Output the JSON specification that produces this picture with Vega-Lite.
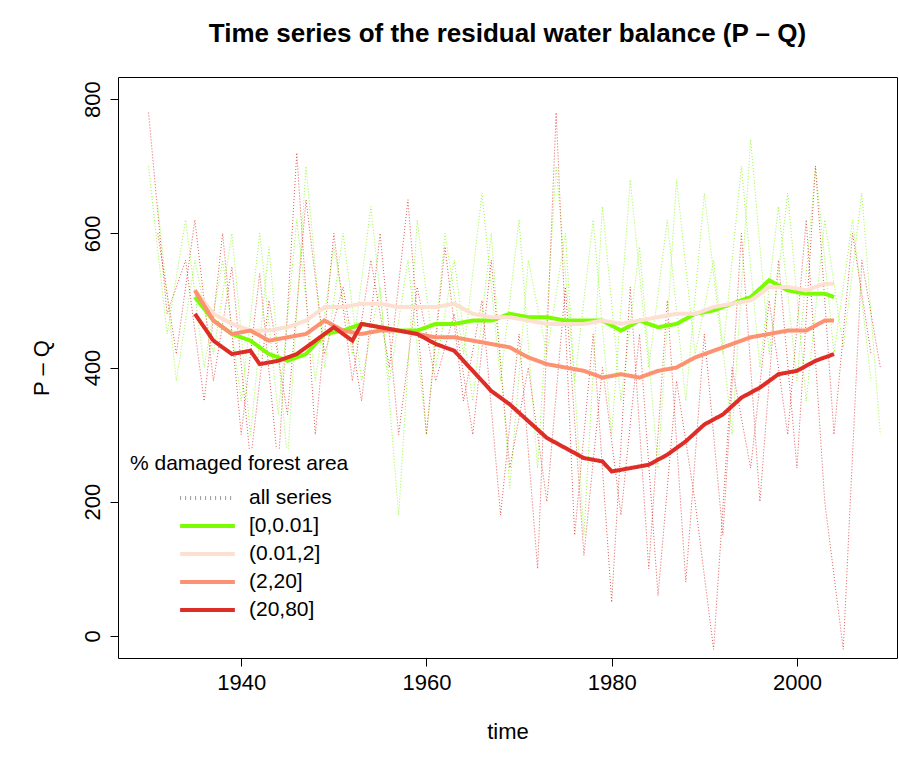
{
  "$schema": "https://vega.github.io/schema/vega-lite/v6.json",
  "autosize": {"type": "fit", "contains": "padding"},
  "width": 899,
  "height": 758,
  "padding": {"top": 21, "left": 30, "right": 2, "bottom": 16},
  "title": {"text": "Time series of the residual water balance (P \u2013 Q)", "fontSize": 26, "font": "Liberation Sans", "fontWeight": "bold", "offset": 30},
  "config": {
    "font": "Liberation Sans",
    "view": {"stroke": "black", "strokeWidth": 1},
    "axis": {"domain": false, "grid": false, "tickColor": "black", "tickSize": 8, "labelFontSize": 22, "titleFontSize": 22, "titleFontWeight": "normal", "labelColor": "black", "titleColor": "black", "labelPadding": 6}
  },
  "datasets": {
    "bg": [
      {"s":"G1","k":"g","year":1930,"value":700},{"s":"G1","k":"g","year":1932,"value":450},{"s":"G1","k":"g","year":1934,"value":620},{"s":"G1","k":"g","year":1936,"value":400},{"s":"G1","k":"g","year":1938,"value":560},{"s":"G1","k":"g","year":1940,"value":350},{"s":"G1","k":"g","year":1942,"value":600},{"s":"G1","k":"g","year":1944,"value":330},{"s":"G1","k":"g","year":1946,"value":620},{"s":"G1","k":"g","year":1948,"value":380},{"s":"G1","k":"g","year":1950,"value":580},{"s":"G1","k":"g","year":1952,"value":420},{"s":"G1","k":"g","year":1954,"value":640},{"s":"G1","k":"g","year":1956,"value":380},{"s":"G1","k":"g","year":1958,"value":560},{"s":"G1","k":"g","year":1960,"value":300},{"s":"G1","k":"g","year":1962,"value":600},{"s":"G1","k":"g","year":1964,"value":420},{"s":"G1","k":"g","year":1966,"value":660},{"s":"G1","k":"g","year":1968,"value":380},{"s":"G1","k":"g","year":1970,"value":620},{"s":"G1","k":"g","year":1972,"value":250},{"s":"G1","k":"g","year":1974,"value":700},{"s":"G1","k":"g","year":1976,"value":380},{"s":"G1","k":"g","year":1978,"value":620},{"s":"G1","k":"g","year":1980,"value":300},{"s":"G1","k":"g","year":1982,"value":680},{"s":"G1","k":"g","year":1984,"value":400},{"s":"G1","k":"g","year":1986,"value":620},{"s":"G1","k":"g","year":1988,"value":350},{"s":"G1","k":"g","year":1990,"value":660},{"s":"G1","k":"g","year":1992,"value":420},{"s":"G1","k":"g","year":1994,"value":700},{"s":"G1","k":"g","year":1996,"value":400},{"s":"G1","k":"g","year":1998,"value":640},{"s":"G1","k":"g","year":2000,"value":380},{"s":"G1","k":"g","year":2002,"value":700},{"s":"G1","k":"g","year":2004,"value":420},{"s":"G1","k":"g","year":2006,"value":620},{"s":"G1","k":"g","year":2008,"value":380},
      {"s":"G2","k":"g","year":1931,"value":640},{"s":"G2","k":"g","year":1933,"value":380},{"s":"G2","k":"g","year":1935,"value":560},{"s":"G2","k":"g","year":1937,"value":420},{"s":"G2","k":"g","year":1939,"value":600},{"s":"G2","k":"g","year":1941,"value":300},{"s":"G2","k":"g","year":1943,"value":580},{"s":"G2","k":"g","year":1945,"value":260},{"s":"G2","k":"g","year":1947,"value":700},{"s":"G2","k":"g","year":1949,"value":400},{"s":"G2","k":"g","year":1951,"value":600},{"s":"G2","k":"g","year":1953,"value":380},{"s":"G2","k":"g","year":1955,"value":520},{"s":"G2","k":"g","year":1957,"value":180},{"s":"G2","k":"g","year":1959,"value":620},{"s":"G2","k":"g","year":1961,"value":400},{"s":"G2","k":"g","year":1963,"value":560},{"s":"G2","k":"g","year":1965,"value":350},{"s":"G2","k":"g","year":1967,"value":600},{"s":"G2","k":"g","year":1969,"value":220},{"s":"G2","k":"g","year":1971,"value":560},{"s":"G2","k":"g","year":1973,"value":420},{"s":"G2","k":"g","year":1975,"value":600},{"s":"G2","k":"g","year":1977,"value":150},{"s":"G2","k":"g","year":1979,"value":640},{"s":"G2","k":"g","year":1981,"value":350},{"s":"G2","k":"g","year":1983,"value":580},{"s":"G2","k":"g","year":1985,"value":250},{"s":"G2","k":"g","year":1987,"value":680},{"s":"G2","k":"g","year":1989,"value":420},{"s":"G2","k":"g","year":1991,"value":560},{"s":"G2","k":"g","year":1993,"value":300},{"s":"G2","k":"g","year":1995,"value":740},{"s":"G2","k":"g","year":1997,"value":420},{"s":"G2","k":"g","year":1999,"value":660},{"s":"G2","k":"g","year":2001,"value":350},{"s":"G2","k":"g","year":2003,"value":620},{"s":"G2","k":"g","year":2005,"value":430},{"s":"G2","k":"g","year":2007,"value":660},{"s":"G2","k":"g","year":2009,"value":300},
      {"s":"R1","k":"r","year":1930,"value":780},{"s":"R1","k":"r","year":1932,"value":480},{"s":"R1","k":"r","year":1934,"value":560},{"s":"R1","k":"r","year":1936,"value":350},{"s":"R1","k":"r","year":1938,"value":600},{"s":"R1","k":"r","year":1940,"value":300},{"s":"R1","k":"r","year":1942,"value":540},{"s":"R1","k":"r","year":1944,"value":250},{"s":"R1","k":"r","year":1946,"value":720},{"s":"R1","k":"r","year":1948,"value":300},{"s":"R1","k":"r","year":1950,"value":600},{"s":"R1","k":"r","year":1952,"value":380},{"s":"R1","k":"r","year":1954,"value":560},{"s":"R1","k":"r","year":1956,"value":400},{"s":"R1","k":"r","year":1958,"value":650},{"s":"R1","k":"r","year":1960,"value":300},{"s":"R1","k":"r","year":1962,"value":580},{"s":"R1","k":"r","year":1964,"value":350},{"s":"R1","k":"r","year":1966,"value":500},{"s":"R1","k":"r","year":1968,"value":180},{"s":"R1","k":"r","year":1970,"value":450},{"s":"R1","k":"r","year":1972,"value":100},{"s":"R1","k":"r","year":1974,"value":780},{"s":"R1","k":"r","year":1976,"value":150},{"s":"R1","k":"r","year":1978,"value":450},{"s":"R1","k":"r","year":1980,"value":50},{"s":"R1","k":"r","year":1982,"value":520},{"s":"R1","k":"r","year":1984,"value":100},{"s":"R1","k":"r","year":1986,"value":500},{"s":"R1","k":"r","year":1988,"value":80},{"s":"R1","k":"r","year":1990,"value":450},{"s":"R1","k":"r","year":1992,"value":150},{"s":"R1","k":"r","year":1994,"value":600},{"s":"R1","k":"r","year":1996,"value":200},{"s":"R1","k":"r","year":1998,"value":560},{"s":"R1","k":"r","year":2000,"value":250},{"s":"R1","k":"r","year":2002,"value":700},{"s":"R1","k":"r","year":2004,"value":300},{"s":"R1","k":"r","year":2006,"value":600},{"s":"R1","k":"r","year":2008,"value":420},
      {"s":"R2","k":"r","year":1931,"value":600},{"s":"R2","k":"r","year":1933,"value":420},{"s":"R2","k":"r","year":1935,"value":620},{"s":"R2","k":"r","year":1937,"value":380},{"s":"R2","k":"r","year":1939,"value":550},{"s":"R2","k":"r","year":1941,"value":260},{"s":"R2","k":"r","year":1943,"value":500},{"s":"R2","k":"r","year":1945,"value":330},{"s":"R2","k":"r","year":1947,"value":650},{"s":"R2","k":"r","year":1949,"value":420},{"s":"R2","k":"r","year":1951,"value":520},{"s":"R2","k":"r","year":1953,"value":350},{"s":"R2","k":"r","year":1955,"value":600},{"s":"R2","k":"r","year":1957,"value":300},{"s":"R2","k":"r","year":1959,"value":520},{"s":"R2","k":"r","year":1961,"value":380},{"s":"R2","k":"r","year":1963,"value":480},{"s":"R2","k":"r","year":1965,"value":300},{"s":"R2","k":"r","year":1967,"value":560},{"s":"R2","k":"r","year":1969,"value":250},{"s":"R2","k":"r","year":1971,"value":400},{"s":"R2","k":"r","year":1973,"value":200},{"s":"R2","k":"r","year":1975,"value":520},{"s":"R2","k":"r","year":1977,"value":120},{"s":"R2","k":"r","year":1979,"value":400},{"s":"R2","k":"r","year":1981,"value":180},{"s":"R2","k":"r","year":1983,"value":450},{"s":"R2","k":"r","year":1985,"value":60},{"s":"R2","k":"r","year":1987,"value":380},{"s":"R2","k":"r","year":1989,"value":200},{"s":"R2","k":"r","year":1991,"value":-20},{"s":"R2","k":"r","year":1993,"value":400},{"s":"R2","k":"r","year":1995,"value":250},{"s":"R2","k":"r","year":1997,"value":500},{"s":"R2","k":"r","year":1999,"value":300},{"s":"R2","k":"r","year":2001,"value":620},{"s":"R2","k":"r","year":2003,"value":200},{"s":"R2","k":"r","year":2005,"value":-20},{"s":"R2","k":"r","year":2007,"value":560},{"s":"R2","k":"r","year":2009,"value":400}
    ],
    "main": [
      {"g":"[0,0.01]","year":1935,"value":505},{"g":"[0,0.01]","year":1937,"value":470},{"g":"[0,0.01]","year":1939,"value":450},{"g":"[0,0.01]","year":1941,"value":440},{"g":"[0,0.01]","year":1943,"value":420},{"g":"[0,0.01]","year":1945,"value":410},{"g":"[0,0.01]","year":1947,"value":420},{"g":"[0,0.01]","year":1949,"value":450},{"g":"[0,0.01]","year":1951,"value":455},{"g":"[0,0.01]","year":1953,"value":465},{"g":"[0,0.01]","year":1955,"value":460},{"g":"[0,0.01]","year":1957,"value":455},{"g":"[0,0.01]","year":1959,"value":455},{"g":"[0,0.01]","year":1961,"value":465},{"g":"[0,0.01]","year":1963,"value":465},{"g":"[0,0.01]","year":1965,"value":470},{"g":"[0,0.01]","year":1967,"value":470},{"g":"[0,0.01]","year":1969,"value":480},{"g":"[0,0.01]","year":1971,"value":475},{"g":"[0,0.01]","year":1973,"value":475},{"g":"[0,0.01]","year":1975,"value":470},{"g":"[0,0.01]","year":1977,"value":470},{"g":"[0,0.01]","year":1979,"value":470},{"g":"[0,0.01]","year":1981,"value":455},{"g":"[0,0.01]","year":1983,"value":470},{"g":"[0,0.01]","year":1985,"value":460},{"g":"[0,0.01]","year":1987,"value":465},{"g":"[0,0.01]","year":1989,"value":480},{"g":"[0,0.01]","year":1991,"value":485},{"g":"[0,0.01]","year":1993,"value":495},{"g":"[0,0.01]","year":1995,"value":505},{"g":"[0,0.01]","year":1997,"value":530},{"g":"[0,0.01]","year":1999,"value":515},{"g":"[0,0.01]","year":2001,"value":510},{"g":"[0,0.01]","year":2003,"value":510},{"g":"[0,0.01]","year":2004,"value":505},
      {"g":"(0.01,2]","year":1935,"value":515},{"g":"(0.01,2]","year":1937,"value":480},{"g":"(0.01,2]","year":1939,"value":465},{"g":"(0.01,2]","year":1941,"value":455},{"g":"(0.01,2]","year":1943,"value":455},{"g":"(0.01,2]","year":1945,"value":460},{"g":"(0.01,2]","year":1947,"value":470},{"g":"(0.01,2]","year":1949,"value":490},{"g":"(0.01,2]","year":1951,"value":490},{"g":"(0.01,2]","year":1953,"value":495},{"g":"(0.01,2]","year":1955,"value":495},{"g":"(0.01,2]","year":1957,"value":490},{"g":"(0.01,2]","year":1959,"value":490},{"g":"(0.01,2]","year":1961,"value":490},{"g":"(0.01,2]","year":1963,"value":495},{"g":"(0.01,2]","year":1965,"value":480},{"g":"(0.01,2]","year":1967,"value":475},{"g":"(0.01,2]","year":1969,"value":475},{"g":"(0.01,2]","year":1971,"value":470},{"g":"(0.01,2]","year":1973,"value":465},{"g":"(0.01,2]","year":1975,"value":465},{"g":"(0.01,2]","year":1977,"value":465},{"g":"(0.01,2]","year":1979,"value":470},{"g":"(0.01,2]","year":1981,"value":465},{"g":"(0.01,2]","year":1983,"value":470},{"g":"(0.01,2]","year":1985,"value":475},{"g":"(0.01,2]","year":1987,"value":480},{"g":"(0.01,2]","year":1989,"value":480},{"g":"(0.01,2]","year":1991,"value":490},{"g":"(0.01,2]","year":1993,"value":495},{"g":"(0.01,2]","year":1995,"value":500},{"g":"(0.01,2]","year":1997,"value":520},{"g":"(0.01,2]","year":1999,"value":520},{"g":"(0.01,2]","year":2001,"value":515},{"g":"(0.01,2]","year":2003,"value":525},{"g":"(0.01,2]","year":2004,"value":525},
      {"g":"(2,20]","year":1935,"value":515},{"g":"(2,20]","year":1937,"value":470},{"g":"(2,20]","year":1939,"value":450},{"g":"(2,20]","year":1941,"value":455},{"g":"(2,20]","year":1943,"value":440},{"g":"(2,20]","year":1945,"value":445},{"g":"(2,20]","year":1947,"value":450},{"g":"(2,20]","year":1949,"value":470},{"g":"(2,20]","year":1951,"value":455},{"g":"(2,20]","year":1953,"value":450},{"g":"(2,20]","year":1955,"value":455},{"g":"(2,20]","year":1957,"value":455},{"g":"(2,20]","year":1959,"value":450},{"g":"(2,20]","year":1961,"value":445},{"g":"(2,20]","year":1963,"value":445},{"g":"(2,20]","year":1965,"value":440},{"g":"(2,20]","year":1967,"value":435},{"g":"(2,20]","year":1969,"value":430},{"g":"(2,20]","year":1971,"value":415},{"g":"(2,20]","year":1973,"value":405},{"g":"(2,20]","year":1975,"value":400},{"g":"(2,20]","year":1977,"value":395},{"g":"(2,20]","year":1979,"value":385},{"g":"(2,20]","year":1981,"value":390},{"g":"(2,20]","year":1983,"value":385},{"g":"(2,20]","year":1985,"value":395},{"g":"(2,20]","year":1987,"value":400},{"g":"(2,20]","year":1989,"value":415},{"g":"(2,20]","year":1991,"value":425},{"g":"(2,20]","year":1993,"value":435},{"g":"(2,20]","year":1995,"value":445},{"g":"(2,20]","year":1997,"value":450},{"g":"(2,20]","year":1999,"value":455},{"g":"(2,20]","year":2001,"value":455},{"g":"(2,20]","year":2003,"value":470},{"g":"(2,20]","year":2004,"value":470},
      {"g":"(20,80]","year":1935,"value":480},{"g":"(20,80]","year":1937,"value":440},{"g":"(20,80]","year":1939,"value":420},{"g":"(20,80]","year":1941,"value":425},{"g":"(20,80]","year":1942,"value":405},{"g":"(20,80]","year":1944,"value":410},{"g":"(20,80]","year":1946,"value":420},{"g":"(20,80]","year":1948,"value":440},{"g":"(20,80]","year":1950,"value":460},{"g":"(20,80]","year":1952,"value":440},{"g":"(20,80]","year":1953,"value":465},{"g":"(20,80]","year":1955,"value":460},{"g":"(20,80]","year":1957,"value":455},{"g":"(20,80]","year":1959,"value":450},{"g":"(20,80]","year":1961,"value":435},{"g":"(20,80]","year":1963,"value":425},{"g":"(20,80]","year":1965,"value":395},{"g":"(20,80]","year":1967,"value":365},{"g":"(20,80]","year":1969,"value":345},{"g":"(20,80]","year":1971,"value":320},{"g":"(20,80]","year":1973,"value":295},{"g":"(20,80]","year":1975,"value":280},{"g":"(20,80]","year":1977,"value":265},{"g":"(20,80]","year":1979,"value":260},{"g":"(20,80]","year":1980,"value":245},{"g":"(20,80]","year":1982,"value":250},{"g":"(20,80]","year":1984,"value":255},{"g":"(20,80]","year":1986,"value":270},{"g":"(20,80]","year":1988,"value":290},{"g":"(20,80]","year":1990,"value":315},{"g":"(20,80]","year":1992,"value":330},{"g":"(20,80]","year":1994,"value":355},{"g":"(20,80]","year":1996,"value":370},{"g":"(20,80]","year":1998,"value":390},{"g":"(20,80]","year":2000,"value":395},{"g":"(20,80]","year":2002,"value":410},{"g":"(20,80]","year":2004,"value":420}
    ]
  },
  "encoding": {
    "x": {"field": "year", "type": "quantitative", "title": "time", "scale": {"domain": [1926.7, 2010.8], "nice": false, "zero": false}, "axis": {"values": [1940, 1960, 1980, 2000], "format": "d", "titlePadding": 28}},
    "y": {"field": "value", "type": "quantitative", "title": "P \u2013 Q", "scale": {"domain": [-33, 833], "nice": false}, "axis": {"values": [0, 200, 400, 600, 800], "labelAngle": -90, "labelAlign": "center", "labelBaseline": "bottom", "titlePadding": 28}}
  },
  "layer": [
    {
      "data": {"name": "bg"},
      "mark": {"type": "line", "strokeWidth": 1, "strokeDash": [1, 2], "clip": true, "opacity": 0.8},
      "encoding": {
        "detail": {"field": "s"},
        "stroke": {"field": "k", "type": "nominal", "scale": {"domain": ["g", "r"], "range": ["#7CFC00", "#DE2D26"]}, "legend": null}
      }
    },
    {
      "data": {"name": "main"},
      "mark": {"type": "line", "strokeWidth": 4, "clip": true},
      "encoding": {
        "color": {"field": "g", "type": "nominal", "title": "% damaged forest area", "scale": {"domain": ["all series", "[0,0.01]", "(0.01,2]", "(2,20]", "(20,80]"], "range": ["#999999", "#7CFC00", "#FEE0D2", "#FC9272", "#DE2D26"]},
          "legend": {"orient": "none", "legendX": 8, "legendY": 372, "titleFontSize": 21, "titleFontWeight": "normal", "titleLimit": 400, "labelFontSize": 21, "symbolType": "stroke", "symbolStrokeWidth": 4, "symbolSize": 3000, "clipHeight": 28, "rowPadding": 0, "padding": 4, "fillColor": "white", "titlePadding": 10, "labelOffset": 12, "titleColor": "black", "labelColor": "black", "symbolOffset": 48}},
        "strokeDash": {"field": "g", "type": "nominal", "scale": {"domain": ["all series", "[0,0.01]", "(0.01,2]", "(2,20]", "(20,80]"], "range": [[1, 4], [1, 0], [1, 0], [1, 0], [1, 0]]}, "legend": null}
      }
    }
  ]
}
